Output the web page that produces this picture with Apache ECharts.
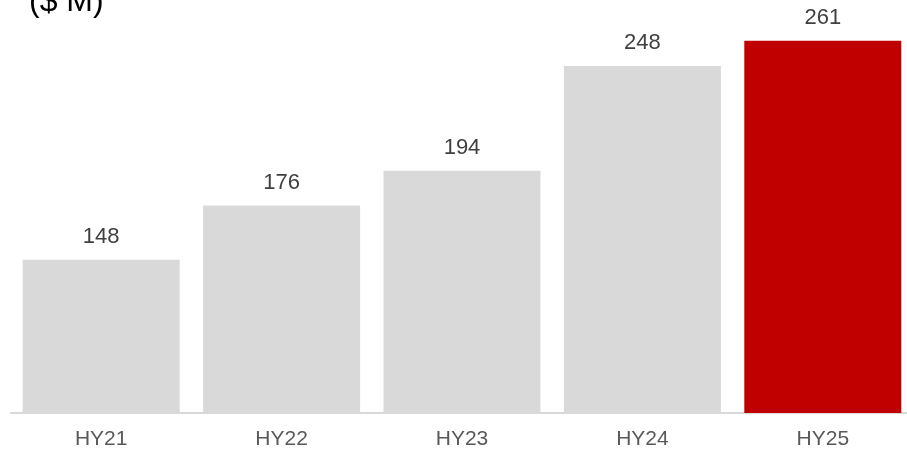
<!DOCTYPE html>
<html>
<head>
<meta charset="utf-8">
<script src="https://cdn.jsdelivr.net/npm/echarts@6/dist/echarts.min.js"></script>
<style>
html, body { margin: 0; padding: 0; background: #fff; overflow: hidden; }
#chart { width: 913px; height: 457px; }
</style>
</head>
<body>
<div id="chart"></div>
<script>
var categories = ['HY21', 'HY22', 'HY23', 'HY24', 'HY25'];
var values = [148, 176, 194, 248, 261];
var barColors = ['#d9d9d9', '#d9d9d9', '#d9d9d9', '#d9d9d9', '#c00000'];

var chart = echarts.init(document.getElementById('chart'));
var option = {
	animation: false,
	title: {
		text: '($ M)',
		left: 24,
		top: -19,
		textStyle: {
			fontFamily: 'Liberation Sans, Arial, sans-serif',
			fontSize: 32,
			fontWeight: 'normal',
			color: '#000'
		}
	},
	grid: {
		left: 11,
		right: 0,
		top: 0,
		bottom: 44,
		containLabel: false
	},
	xAxis: {
		type: 'category',
		data: categories,
		axisTick: { show: false },
		axisLine: { lineStyle: { color: '#d9d9d9', width: 2 } },
		axisLabel: {
			margin: 16,
			fontFamily: 'Liberation Sans, Arial, sans-serif',
			fontSize: 21,
			color: '#595959'
		}
	},
	yAxis: {
		type: 'value',
		min: 69,
		max: 282,
		show: false,
		splitLine: { show: false }
	},
	series: [{
		type: 'bar',
		barWidth: 157,
		data: values.map(function(v, i) {
			return { value: v, itemStyle: { color: barColors[i] } };
		}),
		label: {
			show: true,
			position: 'top',
			distance: 12,
			fontFamily: 'Liberation Sans, Arial, sans-serif',
			fontSize: 22,
			color: '#404040'
		}
	}]
};
chart.setOption(option);
</script>
</body>
</html>
